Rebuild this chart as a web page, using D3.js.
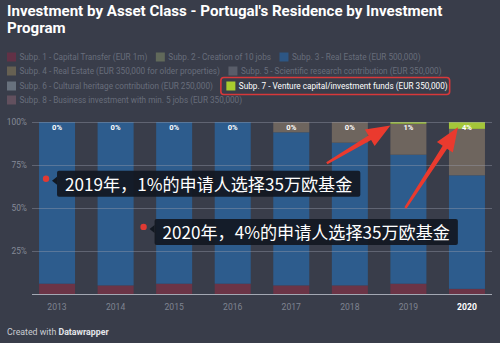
<!DOCTYPE html>
<html><head><meta charset="utf-8">
<script src="https://cdn.jsdelivr.net/npm/d3@7"></script>
<style>
html,body{margin:0;padding:0;background:#393d4a;}
svg{display:block;font-family:Roboto,"Noto Sans",sans-serif;}
</style></head>
<body><svg id="c" width="500" height="343"></svg>
<script>
const years = ["2013","2014","2015","2016","2017","2018","2019","2020"];
const subp1 = [6,5,6,6,5,5,6,3];
const subp2 = [0,0,0,0,0,0,0,0];
const subp3 = [94,95,94,94,89,83,75,66];
const subp4 = [0,0,0,0,6,12,18,27];
const subp5 = [0,0,0,0,0,0,0,0];
const subp6 = [0,0,0,0,0,0,0,0];
const subp7 = [0,0,0,0,0,0,1,4];
const subp8 = [0,0,0,0,0,0,0,0];
const seriesNames = [
  "Subp. 1 - Capital Transfer (EUR 1m)",
  "Subp. 2 - Creation of 10 jobs",
  "Subp. 3 - Real Estate (EUR 500,000)",
  "Subp. 4 - Real Estate (EUR 350,000 for older properties)",
  "Subp. 5 - Scientific research contribution (EUR 350,000)",
  "Subp. 6 - Cultural heritage contribution (EUR 250,000)",
  "Subp. 7 - Venture capital/investment funds (EUR 350,000)",
  "Subp. 8 - Business investment with min. 5 jobs (EUR 350,000)"
];
const yTicks = [0,25,50,75,100];
const title = ["Investment by Asset Class - Portugal's Residence by Investment","Program"];
const annotations = [
  {text:"2019年，1%的申请人选择35万欧基金", year:"2013", dx:7, value:67},
  {text:"2020年，4%的申请人选择35万欧基金", year:"2014", dx:46, value:39}
];
const arrows = [
  {fromYear:"2018", fromDx:-5, fromValue:76, toYear:"2019", toDx:0, toValue:98},
  {fromYear:"2019", fromDx:15, fromValue:50, toYear:"2020", toDx:9, toValue:97}
];

const allSeries = [subp1,subp2,subp3,subp4,subp5,subp6,subp7,subp8];
const barColors = ["#6b3446","#5f6a55","#2d5c8d","#6e655e","#5c606b","#6e7681","#a4c639","#6f5a66"];
const legendColors = ["#6a2f45","#69715d","#2c5a8e","#6e6653","#5f636e","#717a86","#a8cc2e","#6a5462"];
const highlight = 6;

const svg = d3.select("#c");

// title
title.forEach((t,i)=>svg.append("text").attr("x",7).attr("y",i===0?15.5:33)
  .attr("fill","#ffffff").attr("font-size","15.1px").attr("font-weight","700").text(t));

// legend layout rows
const legendRows = [[0,1,2],[3,4],[5,6],[7]];
const legendY = [57,71,86,100];
legendRows.forEach((row,ri)=>{
  let x = 7;
  row.forEach(si=>{
    const g = svg.append("g");
    const isH = si===highlight;
    const t = g.append("text").attr("y",legendY[ri]+3).attr("font-size","8.2px")
      .attr("fill", isH?"#ffffff":"#686d7b").text(seriesNames[si]);
    if(isH){
      x += 5;
      const w = t.node().getComputedTextLength();
      g.insert("rect","text").attr("x",x-5.5).attr("y",legendY[ri]-8.5).attr("width",w+20).attr("height",17)
        .attr("rx",3).attr("fill","none").attr("stroke","#d8383a").attr("stroke-width",1.6);
    }
    g.append("rect").attr("x",x).attr("y",legendY[ri]-4.5).attr("width",9).attr("height",9)
      .attr("fill",legendColors[si]).attr("opacity",isH?1:0.85);
    t.attr("x",x+12.5);
    const w = t.node().getComputedTextLength();
    x += 12.5 + w + 8.5;
  });
});

// scales
const x = d3.scaleBand().domain(years).range([32,492]).paddingInner(0.385).paddingOuter(0.12);
const y = d3.scaleLinear().domain([0,100]).range([294,122]);

// stacked bars
const table = years.map((yr,i)=>{
  const o = {year:yr};
  allSeries.forEach((s,si)=>o["s"+si]=s[i]);
  return o;
});
const keys = allSeries.map((s,si)=>"s"+si);
const stack = d3.stack().keys(keys)(table);
svg.append("g").selectAll("g").data(stack).join("g")
  .attr("fill",(d,i)=>barColors[i])
  .selectAll("rect").data(d=>d).join("rect")
  .attr("x",d=>x(d.data.year)).attr("width",x.bandwidth())
  .attr("y",d=>y(d[1])).attr("height",d=>Math.max(0,y(d[0])-y(d[1])));

// gridlines
svg.append("g").selectAll("line").data(yTicks.filter(v=>v>0)).join("line")
  .attr("x1",32).attr("x2",492).attr("y1",d=>y(d)+0.5).attr("y2",d=>y(d)+0.5)
  .attr("stroke","#9aa0ae").attr("stroke-opacity",0.4).attr("stroke-width",1);
svg.append("line").attr("x1",32).attr("x2",492).attr("y1",y(0)+0.5).attr("y2",y(0)+0.5)
  .attr("stroke","#a3a8b3").attr("stroke-width",1);

// y axis labels
svg.append("g").selectAll("text").data(yTicks.filter(v=>v>0)).join("text")
  .attr("x",27).attr("y",d=>y(d)+3).attr("text-anchor","end")
  .attr("font-size","8.4px").attr("fill","#858a97").text(d=>d+"%");

// x axis labels
svg.append("g").selectAll("text").data(years).join("text")
  .attr("x",d=>x(d)+x.bandwidth()/2).attr("y",310).attr("text-anchor","middle")
  .attr("font-size","8.6px")
  .attr("font-weight",d=>d==="2020"?"700":"400")
  .attr("fill",d=>d==="2020"?"#ffffff":"#7f8491").text(d=>d);

// value labels (subp 7)
svg.append("g").selectAll("text").data(years).join("text")
  .attr("x",(d)=>x(d)+x.bandwidth()/2).attr("y",y(100)+7.5).attr("text-anchor","middle")
  .attr("font-size","7.6px").attr("font-weight","700").attr("fill","#ffffff")
  .text((d,i)=>subp7[i]+"%");

// arrows
const arrowG = svg.append("g");
arrows.forEach(a=>{
  const x1 = x(a.fromYear)+a.fromDx, y1 = y(a.fromValue);
  const x2 = x(a.toYear)+a.toDx, y2 = y(a.toValue);
  const dx = x2-x1, dy = y2-y1, L = Math.hypot(dx,dy);
  const ux = dx/L, uy = dy/L, px = -uy, py = ux;
  const hl = 24, hw = 9.5, sw0 = 1.2, sw1 = 2.6;
  const bx = x2-ux*hl, by = y2-uy*hl;
  const pts = [
    [x1+px*sw0, y1+py*sw0],
    [bx+px*sw1, by+py*sw1],
    [bx+px*hw, by+py*hw],
    [x2, y2],
    [bx-px*hw, by-py*hw],
    [bx-px*sw1, by-py*sw1],
    [x1-px*sw0, y1-py*sw0]
  ];
  arrowG.append("path").attr("d","M"+pts.map(p=>p.join(",")).join("L")+"Z").attr("fill","#ea3a2e");
});

// annotations
annotations.forEach(a=>{
  const cx = x(a.year)+a.dx, cy = y(a.value);
  svg.append("circle").attr("cx",cx).attr("cy",cy).attr("r",3.2).attr("fill","#e03a33");
  const g = svg.append("g");
  const bx = cx+11, by = cy-8;
  const t = g.append("text").attr("x",bx+8).attr("y",by+20.5).attr("font-size","17.1px")
    .attr("font-family","'Noto Sans CJK SC','Noto Sans',sans-serif").attr("fill","#ffffff").text(a.text);
  const w = t.node().getComputedTextLength();
  g.insert("rect","text").attr("x",bx).attr("y",by).attr("width",w+16).attr("height",26)
    .attr("rx",2).attr("fill","#121821").attr("opacity",0.93);
  g.insert("path","text").attr("d",`M${bx},${by+6}L${bx-5},${by+10}L${bx},${by+14}Z`).attr("fill","#121821");
});

// footer
const ft = svg.append("text").attr("x",7).attr("y",335).attr("font-size","8.8px").attr("fill","#c9ccd3");
ft.append("tspan").text("Created with ");
ft.append("tspan").attr("font-weight","700").attr("fill","#e4e6ea").text("Datawrapper");
</script>
</body></html>
